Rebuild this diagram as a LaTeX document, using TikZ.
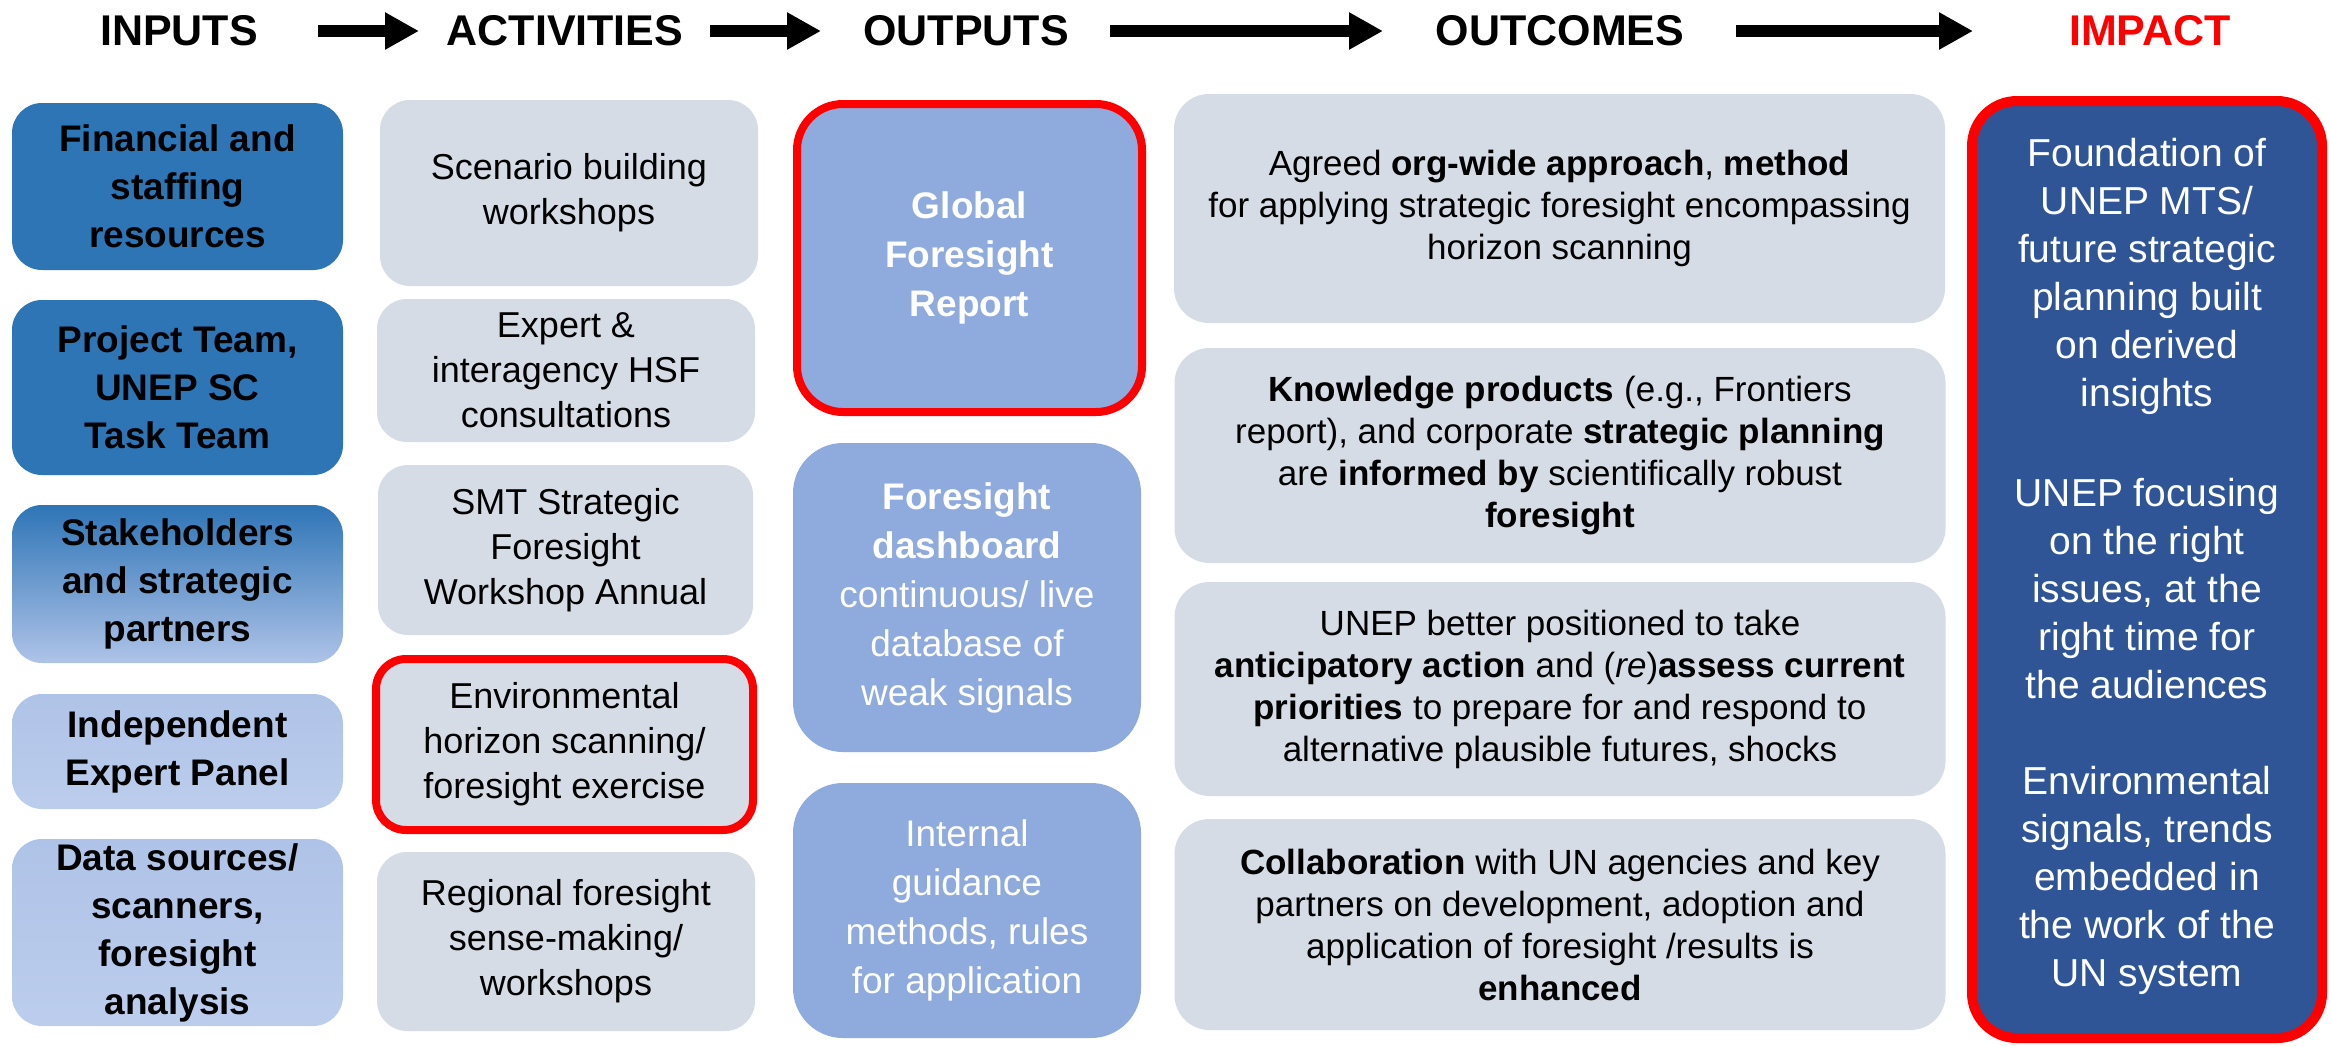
\documentclass[tikz,border=0pt]{standalone}
\usepackage{fontspec}
\setmainfont{Liberation Sans}
\usetikzlibrary{arrows.meta}
\definecolor{inDark}{HTML}{2E75B6}
\definecolor{inLight}{HTML}{AFC3E8}
\definecolor{inLightB}{HTML}{BCCDEC}
\definecolor{actGray}{HTML}{D6DCE5}
\definecolor{outBlue}{HTML}{8FAADC}
\definecolor{impBlue}{HTML}{2F5597}
\definecolor{hlRed}{HTML}{FF0000}
\begin{document}
\begin{tikzpicture}[x=1pt,y=-1pt,
  hdr/.style={font=\fontsize{43}{43}\selectfont\bfseries, anchor=base, inner sep=0pt},
  flow/.style={line width=12pt, -{Triangle[length=34pt,width=35pt]}},
  box/.style={rectangle, inner sep=0pt, align=center},
  inbox/.style={box, rounded corners=30pt, minimum width=331pt, font=\fontsize{37}{48}\selectfont\bfseries},
  actbox/.style={box, rounded corners=30pt, fill=actGray, minimum width=378pt, font=\fontsize{36}{45}\selectfont},
  outbox/.style={box, rounded corners=50pt, fill=outBlue, minimum width=348pt, text=white, font=\fontsize{37}{49}\selectfont},
  ocbox/.style={box, rounded corners=35pt, fill=actGray, minimum width=771pt, font=\fontsize{35}{42}\selectfont},
  redframe/.style={draw=hlRed, line width=8pt}
]
\useasboundingbox (0,0) rectangle (2331,1045);
\fill[white] (0,0) rectangle (2331,1045);

% headers
\node[hdr] (hIn)  at (179,45)  {INPUTS};
\node[hdr] (hAct) at (565,45)  {ACTIVITIES};
\node[hdr] (hOut) at (966,45)  {OUTPUTS};
\node[hdr] (hOc)  at (1560,45) {OUTCOMES};
\node[hdr, text=hlRed] (hImp) at (2150,45) {IMPACT};
\coordinate (a1s) at (318,31);  \coordinate (a1e) at (419,31);
\coordinate (a2s) at (710,31);  \coordinate (a2e) at (821,31);
\coordinate (a3s) at (1110,31); \coordinate (a3e) at (1383,31);
\coordinate (a4s) at (1736,31); \coordinate (a4e) at (1973,31);
\draw[flow] (a1s) -- (a1e);
\draw[flow] (a2s) -- (a2e);
\draw[flow] (a3s) -- (a3e);
\draw[flow] (a4s) -- (a4e);

% inputs
\node[inbox, fill=inDark, minimum height=167pt] (i1) at (177.5,186.5) {Financial and\\staffing\\resources};
\node[inbox, fill=inDark, minimum height=175pt] (i2) at (177.5,387.5) {Project Team,\\UNEP SC\\Task Team};
\node[inbox, top color=inDark, bottom color=inLight, minimum height=158pt] (i3) at (177.5,584) {Stakeholders\\and strategic\\partners};
\node[inbox, top color=inLight, bottom color=inLightB, minimum height=115pt] (i4) at (177.5,751.5) {Independent\\Expert Panel};
\node[inbox, top color=inLight, bottom color=inLightB, minimum height=187pt] (i5) at (177.5,932.5) {Data sources/\\scanners,\\foresight\\analysis};

% activities
\node[actbox, minimum height=186pt] (a1) at (569,193) {Scenario building\\workshops};
\node[actbox, minimum height=143pt] (a2) at (566,370.5) {Expert \&\\interagency HSF\\consultations};
\node[actbox, minimum width=375pt, minimum height=170pt] (a3) at (565.5,550) {SMT Strategic\\Foresight\\Workshop Annual};
\node[actbox, redframe, minimum width=377pt, minimum height=171pt] (a4) at (564.5,744.5) {Environmental\\horizon scanning/\\foresight exercise};
\node[actbox, minimum height=179pt] (a5) at (566,941.5) {Regional foresight\\sense-making/\\workshops};

% outputs
\node[outbox, redframe, rounded corners=46pt, minimum width=345pt, minimum height=308pt, font=\fontsize{37}{49}\selectfont\bfseries] (o1) at (969.5,258) {Global\\Foresight\\Report};
\node[outbox, minimum height=309pt] (o2) at (967,597.5) {\textbf{Foresight}\\\textbf{dashboard}\\continuous/ live\\database of\\weak signals};
\node[outbox, minimum height=255pt] (o3) at (967,910.5) {Internal\\guidance\\methods, rules\\for application};

% outcomes
\node[ocbox, minimum height=229pt] (c1) at (1559.5,208.5) {Agreed \textbf{org-wide approach}, \textbf{method}\\for applying strategic foresight encompassing\\horizon scanning};
\node[ocbox, minimum height=215pt] (c2) at (1560,455.5) {\textbf{Knowledge products} (e.g., Frontiers\\report), and corporate \textbf{strategic planning}\\are \textbf{informed by} scientifically robust\\\textbf{foresight}};
\node[ocbox, minimum height=214pt] (c3) at (1560,689) {UNEP better positioned to take\\\textbf{anticipatory action} and (\textit{re})\textbf{assess current}\\\textbf{priorities} to prepare for and respond to\\alternative plausible futures, shocks};
\node[ocbox, minimum height=211pt] (c4) at (1560,924.5) {\textbf{Collaboration} with UN agencies and key\\partners on development, adoption and\\application of foresight /results is\\\textbf{enhanced}};

% impact
\node[box, rounded corners=45pt, fill=impBlue, draw=hlRed, line width=10pt, minimum width=350pt, minimum height=937pt] (imp) at (2147,569.5) {};
\node[box, text=white, font=\fontsize{39}{48}\selectfont] (impTxt) at (2147,566)
  {Foundation of\\UNEP MTS/\\future strategic\\planning built\\on derived\\insights\\[52pt]UNEP focusing\\on the right\\issues, at the\\right time for\\the audiences\\[48pt]Environmental\\signals, trends\\embedded in\\the work of the\\UN system};
\end{tikzpicture}
\end{document}
